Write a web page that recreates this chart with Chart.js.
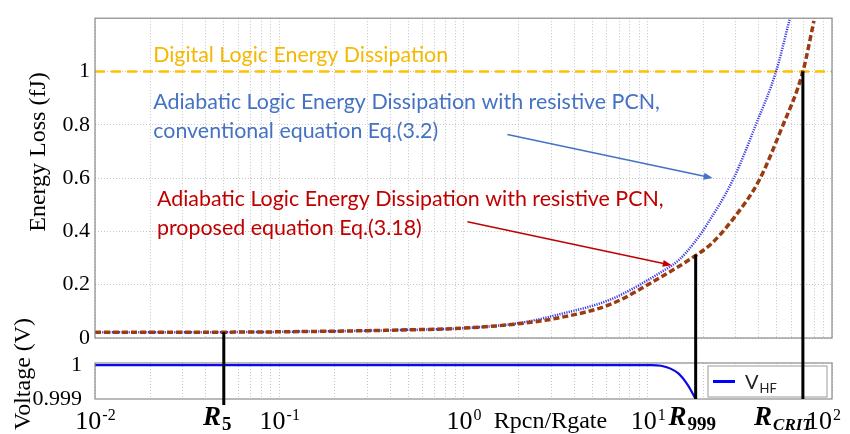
<!DOCTYPE html>
<html>
<head>
<meta charset="utf-8">
<script src="https://cdn.jsdelivr.net/npm/chart.js@4.4.1/dist/chart.umd.min.js"></script>
<style>
    html, body { margin: 0; padding: 0; background: #fff; }
    #wrap { position: relative; width: 850px; height: 434px; }
    #wrap canvas { position: absolute; left: 0; top: 0; }
</style>
</head>
<body>
<div id="wrap">
    <canvas id="energyChart" width="850" height="434"></canvas>
    <canvas id="voltageChart" width="850" height="434"></canvas>
</div>
<script>
// Energy loss (fJ) vs Rpcn/Rgate
const propX = [0.01, 0.05, 0.13, 0.455, 1, 1.96, 3.37, 6.3, 11.8, 17.8, 22.0, 29.3, 40.1, 52.8, 69.5, 79.8];
const propE = [0.022, 0.022, 0.024, 0.03, 0.037, 0.053, 0.077, 0.127, 0.229, 0.305, 0.352, 0.45, 0.59, 0.78, 1.0, 1.19];
const convX = [0.01, 0.05, 0.13, 0.455, 1, 1.96, 3.37, 6.3, 11.8, 14.6, 17.8, 20.7, 29.3, 38.6, 49.7, 59.1];
const convE = [0.022, 0.022, 0.024, 0.03, 0.037, 0.055, 0.09, 0.145, 0.247, 0.29, 0.356, 0.42, 0.60, 0.80, 1.0, 1.2];
const digitalX = [0.01, 100];
const digitalE = [1, 1];

// V_HF (V) in the lower panel
const vhfX = [0.01, 10.4, 11.8, 14.6, 16.5, 18.2];
const vhfV = [1, 1, 0.99998, 0.99976, 0.99941, 0.999];

// ticks
const energyTicks = [0, 0.2, 0.4, 0.6, 0.8, 1];
const voltTicks = [0.999, 1];
const decades = [-2, -1, 0, 1, 2];

// marked ratios R5, R999, Rcrit and the energy where each line starts
const markX = [0.05, 18.2, 69.5];
const markE = [0.022, 0.313, 1.0];
const markSub = ['5', '999', 'CRIT'];

const SERIF = "'Liberation Serif', 'Times New Roman', serif";
const SANS = "Lato, 'Open Sans', sans-serif";
const GRID = '#c6c6c6';
const BOX = '#8a8a8a';

function pts(xs, ys) {
    return xs.map((x, i) => ({ x: x, y: ys[i] }));
}

function logTicks() {
    const t = [];
    decades.forEach(d => {
        for (let m = 1; m <= 9; m++) {
            if (d === 2 && m > 1) break;
            t.push({ value: +(m * Math.pow(10, d)).toPrecision(3), major: m === 1 });
        }
    });
    return t;
}

function xScale() {
    return {
        type: 'logarithmic',
        min: 0.01,
        max: 100,
        afterBuildTicks: s => { s.ticks = logTicks(); },
        afterFit: s => { s.height = 0; },
        ticks: { display: false },
        grid: { color: GRID, lineWidth: 1, drawTicks: false },
        border: { display: false, dash: [1, 2] }
    };
}

// font size that makes text span the given width
function fitSize(ctx, text, width) {
    ctx.font = '100px ' + SANS;
    return 100 * width / ctx.measureText(text).width;
}

function sansText(ctx, text, x, y, size, color) {
    ctx.font = size.toFixed(2) + 'px ' + SANS;
    ctx.fillStyle = color;
    ctx.textAlign = 'left';
    ctx.textBaseline = 'middle';
    ctx.fillText(text, x, y);
}

function arrow(ctx, x1, y1, x2, y2, color) {
    const a = Math.atan2(y2 - y1, x2 - x1);
    ctx.strokeStyle = color;
    ctx.fillStyle = color;
    ctx.lineWidth = 1.5;
    ctx.setLineDash([]);
    ctx.beginPath();
    ctx.moveTo(x1, y1);
    ctx.lineTo(x2 - 6 * Math.cos(a), y2 - 6 * Math.sin(a));
    ctx.stroke();
    ctx.beginPath();
    ctx.moveTo(x2, y2);
    ctx.lineTo(x2 - 9 * Math.cos(a) + 3.5 * Math.sin(a), y2 - 9 * Math.sin(a) - 3.5 * Math.cos(a));
    ctx.lineTo(x2 - 9 * Math.cos(a) - 3.5 * Math.sin(a), y2 - 9 * Math.sin(a) + 3.5 * Math.cos(a));
    ctx.closePath();
    ctx.fill();
}

function rotated(ctx, text, x, y) {
    ctx.save();
    ctx.translate(x, y);
    ctx.rotate(-Math.PI / 2);
    ctx.font = '24px ' + SERIF;
    ctx.fillStyle = '#000';
    ctx.textAlign = 'center';
    ctx.textBaseline = 'middle';
    ctx.fillText(text, 0, 0);
    ctx.restore();
}

/**
 * Top panel: frame, annotation texts, arrows, axis title
 */
const energyDecor = {
    id: 'energyDecor',
    afterDraw(chart) {
        const ctx = chart.ctx;
        const ca = chart.chartArea;
        const xs = chart.scales.x;
        const ys = chart.scales.y;
        const px = (x, y) => [xs.getPixelForValue(x), ys.getPixelForValue(y)];
        ctx.save();
        ctx.setLineDash([]);
        ctx.strokeStyle = BOX;
        ctx.lineWidth = 1.2;
        ctx.strokeRect(ca.left, ca.top, ca.right - ca.left, ca.bottom - ca.top);

        const head = 'Adiabatic Logic Energy Dissipation with resistive PCN,';
        const size = fitSize(ctx, head, 507);
        let p = px(0.0207, 1.062);
        sansText(ctx, 'Digital Logic Energy Dissipation', p[0], p[1], fitSize(ctx, 'Digital Logic Energy Dissipation', 295), '#f5b800');
        p = px(0.0207, 0.884);
        sansText(ctx, head, p[0], p[1], size, '#4472c4');
        p = px(0.0207, 0.775);
        sansText(ctx, 'conventional equation Eq.(3.2)', p[0], p[1], size, '#4472c4');
        p = px(0.0217, 0.52);
        sansText(ctx, head, p[0], p[1], size, '#c00000');
        p = px(0.0217, 0.411);
        sansText(ctx, 'proposed equation Eq.(3.18)', p[0], p[1], size, '#c00000');

        let a = px(1.73, 0.764), b = px(22.5, 0.6);
        arrow(ctx, a[0], a[1], b[0], b[1], '#4472c4');
        a = px(1.05, 0.436); b = px(13.5, 0.273);
        arrow(ctx, a[0], a[1], b[0], b[1], '#c00000');

        rotated(ctx, 'Energy Loss (fJ)', 39, 152);
        ctx.restore();
    }
};

const energyChart = new Chart(document.getElementById('energyChart'), {
    type: 'scatter',
    data: {
        datasets: [{
            label: 'proposed',
            data: pts(propX, propE),
            showLine: true,
            borderColor: '#9a3c10',
            borderWidth: 3.5,
            borderDash: [6, 3],
            cubicInterpolationMode: 'monotone',
            order: 0
        }, {
            label: 'conventional',
            data: pts(convX, convE),
            showLine: true,
            borderColor: '#3a3ae6',
            borderWidth: 2.5,
            borderDash: [1.2, 1.2],
            cubicInterpolationMode: 'monotone',
            order: 1
        }, {
            label: 'digital',
            data: pts(digitalX, digitalE),
            showLine: true,
            borderColor: '#ffc000',
            borderWidth: 2.5,
            borderDash: [10, 6],
            order: 2
        }]
    },
    options: {
        responsive: false,
        animation: false,
        devicePixelRatio: 1,
        layout: { padding: { left: 0, top: 8, right: 18, bottom: 96 } },
        elements: { point: { radius: 0 } },
        plugins: { legend: { display: false }, tooltip: { enabled: false } },
        scales: {
            x: xScale(),
            y: {
                min: 0,
                max: 1.2,
                afterBuildTicks: s => { s.ticks = energyTicks.map(v => ({ value: v })); },
                afterFit: s => { s.width = 95; },
                ticks: {
                    color: '#000',
                    padding: 5,
                    font: { family: SERIF, size: 22 },
                    callback: v => String(+v.toFixed(1))
                },
                grid: { color: GRID, drawTicks: false },
                border: { display: false, dash: [1, 2] }
            }
        }
    },
    plugins: [energyDecor]
});

/**
 * Lower panel: frame, legend, marker lines and the shared x-axis labels
 */
const voltageDecor = {
    id: 'voltageDecor',
    afterDraw(chart) {
        const ctx = chart.ctx;
        const ca = chart.chartArea;
        const xs = chart.scales.x;
        const eY = energyChart.scales.y;
        ctx.save();
        ctx.setLineDash([]);
        ctx.strokeStyle = BOX;
        ctx.lineWidth = 1.2;
        ctx.strokeRect(ca.left, ca.top, ca.right - ca.left, ca.bottom - ca.top);

        // legend
        const lx = ca.right - 124, ly = ca.top + 3, lw = 119, lh = ca.bottom - ca.top - 5;
        ctx.fillStyle = '#fff';
        ctx.fillRect(lx, ly, lw, lh);
        ctx.strokeStyle = '#9a9a9a';
        ctx.lineWidth = 1;
        ctx.strokeRect(lx, ly, lw, lh);
        ctx.strokeStyle = '#0000ff';
        ctx.lineWidth = 3;
        ctx.beginPath();
        ctx.moveTo(lx + 5, ly + lh / 2);
        ctx.lineTo(lx + 27, ly + lh / 2);
        ctx.stroke();
        ctx.fillStyle = '#222';
        ctx.textAlign = 'left';
        ctx.textBaseline = 'alphabetic';
        ctx.font = '20px ' + SANS;
        ctx.fillText('V', lx + 37, ly + lh / 2 + 7);
        const vw = ctx.measureText('V').width;
        ctx.font = '13px ' + SANS;
        ctx.fillText('HF', lx + 37 + vw + 1, ly + lh / 2 + 11);

        // R5, R999, Rcrit lines
        ctx.strokeStyle = '#000';
        ctx.lineWidth = 3;
        markX.forEach((m, i) => {
            const x = xs.getPixelForValue(m);
            ctx.beginPath();
            ctx.moveTo(x, eY.getPixelForValue(markE[i]));
            ctx.lineTo(x, ca.bottom + (i === 0 ? 6 : 0));
            ctx.stroke();
        });

        // decade labels 10^n
        ctx.fillStyle = '#000';
        decades.forEach(d => {
            const x = xs.getPixelForValue(Math.pow(10, d));
            const e = String(d);
            ctx.font = '26px ' + SERIF;
            const wb = ctx.measureText('10').width;
            ctx.font = '16px ' + SERIF;
            const we = ctx.measureText(e).width;
            let x0 = x - (wb + we) / 2;
            if (x0 + wb + we > 840) x0 = 840 - wb - we;
            ctx.font = '26px ' + SERIF;
            ctx.fillText('10', x0, ca.bottom + 30);
            ctx.font = '16px ' + SERIF;
            ctx.fillText(e, x0 + wb + 1, ca.bottom + 21);
        });

        // marker labels
        const dx = [-7, -4, -20];
        markX.forEach((m, i) => {
            const x = xs.getPixelForValue(m) + dx[i];
            const subFont = i === 2 ? 'bold italic 17px ' + SERIF : 'bold 19px ' + SERIF;
            ctx.font = 'bold italic 27px ' + SERIF;
            const wr = ctx.measureText('R').width;
            ctx.font = subFont;
            const ws = ctx.measureText(markSub[i]).width;
            const x0 = x - (wr + ws) / 2;
            ctx.font = 'bold italic 27px ' + SERIF;
            ctx.fillText('R', x0, ca.bottom + 26);
            ctx.font = subFont;
            ctx.fillText(markSub[i], x0 + wr + 1, ca.bottom + 31);
        });

        ctx.font = '24px ' + SERIF;
        ctx.textAlign = 'center';
        ctx.fillText('Rpcn/Rgate', ca.left + (ca.right - ca.left) * 0.618, ca.bottom + 29);

        rotated(ctx, 'Voltage (V)', 24, 374);
        ctx.restore();
    }
};

const voltageChart = new Chart(document.getElementById('voltageChart'), {
    type: 'scatter',
    data: {
        datasets: [{
            label: 'VHF',
            data: pts(vhfX, vhfV),
            showLine: true,
            borderColor: '#0a0ae6',
            borderWidth: 2.2,
            cubicInterpolationMode: 'monotone'
        }]
    },
    options: {
        responsive: false,
        animation: false,
        devicePixelRatio: 1,
        layout: { padding: { left: 0, top: 363, right: 18, bottom: 35 } },
        elements: { point: { radius: 0 } },
        plugins: { legend: { display: false }, tooltip: { enabled: false } },
        scales: {
            x: xScale(),
            y: {
                min: 0.999,
                max: 1.00006,
                afterBuildTicks: s => { s.ticks = voltTicks.map(v => ({ value: v })); },
                afterFit: s => { s.width = 95; },
                ticks: {
                    color: '#000',
                    padding: 5,
                    font: { family: SERIF, size: 22 },
                    callback: v => String(v)
                },
                grid: { display: false },
                border: { display: false }
            }
        }
    },
    plugins: [voltageDecor]
});
</script>
</body>
</html>
